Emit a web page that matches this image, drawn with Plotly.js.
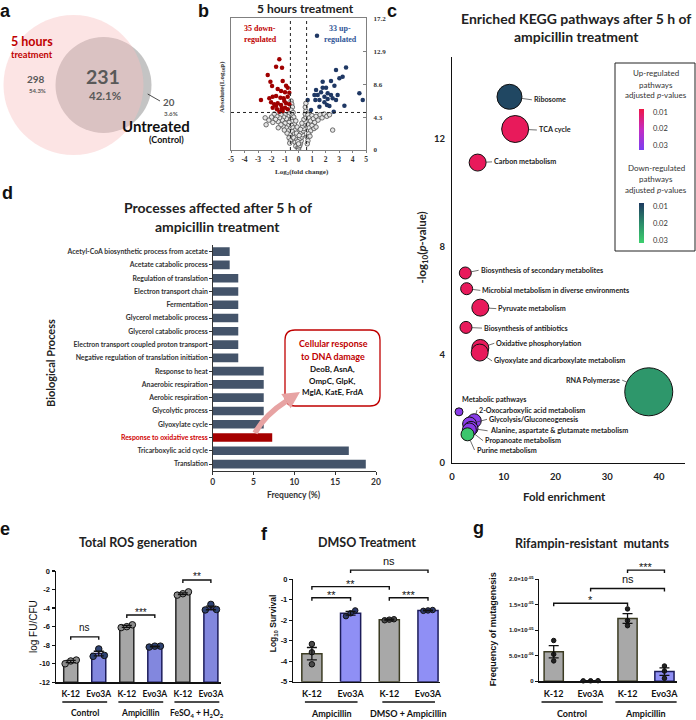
<!DOCTYPE html>
<html>
<head>
<meta charset="utf-8">
<script src="https://cdn.plot.ly/plotly-3.0.1.min.js"></script>
<style>
html,body{margin:0;padding:0;background:#ffffff;}
#chart{width:696px;height:720px;}
</style>
</head>
<body>
<div id="chart"></div>
<script>
// ================= DATA =================
// (a) Venn diagram
const vennSetNames = ['5 hours', 'treatment', 'Untreated', '(Control)'];
const vennCounts = [298, 231, 20];            // treated only, shared, control only
const vennPercents = ['54.3%', '42.1%', '3.6%'];

// (b) Volcano plot
const downLog2FC = [-1.42,-1.66,-1.22,-2.28,-2.08,-1.17,-1.96,-0.92,-0.80,-1.54,-1.29,-1.00,-0.68,-2.78,-1.91,-1.66,-1.34,-1.10,-0.80,-2.03,-1.79,-1.54,-1.29,-0.92,-0.68,-1.91,-1.59,-1.24,-1.00,-0.80,-1.42,-1.17,-1.66,-1.05,-2.16];
const downLogP   = [11.84,10.88,10.75,9.79,8.92,9.01,8.36,8.40,8.14,7.96,7.70,7.53,7.49,6.53,6.96,7.05,6.83,6.75,6.96,6.22,5.96,6.09,5.87,6.09,5.96,5.53,5.31,5.44,5.53,5.31,5.00,5.09,5.79,6.40,6.75];
const upLog2FC = [1.37,3.52,2.78,3.27,3.03,2.41,2.66,1.79,2.04,1.30,1.67,1.42,1.18,2.16,2.41,4.51,4.76,0.68,1.25,1.55,2.16,2.53,2.78,1.92,2.11,3.40,2.29,2.61,0.93,1.55,1.92,2.90,1.79];
const upLogP   = [14.93,10.79,10.44,9.57,9.36,9.01,8.40,8.14,8.14,7.83,7.53,7.18,7.18,7.40,7.18,7.40,6.53,6.53,6.53,6.53,6.66,6.75,6.53,6.22,5.87,5.79,5.74,5.00,5.22,5.66,6.96,7.18,8.92];
const nsLog2FC = [-0.55,-0.5,-0.45,-0.55,-0.4,-0.5,-0.35,-0.55,-0.45,-0.3,-0.5,-0.4,-0.25,-0.45,-0.3,-0.2,-0.35,-0.15,-0.25,-0.1,-0.2,-0.05,0,0.05,0.1,0.15,0.2,0.1,0.25,0.3,0.2,0.35,0.4,0.3,0.45,0.5,0.4,0.55,0.5,0.55,0.5,0.55,-0.15,-0.05,0.05,-0.1,0.15,-0.2,0.25,0,
  -0.7,-0.8,-0.9,-1.0,-1.1,-1.2,-1.3,-1.4,-1.5,-1.6,-1.7,-1.8,-1.9,-2.0,-2.2,-2.4,-2.47,-0.7,-0.8,-0.9,-1.0,-1.15,-1.3,-0.75,-0.65,-0.85,-1.05,-0.7,-0.6,-1.5,-0.65,
  0.7,0.8,0.9,1.0,1.1,1.2,1.3,1.45,1.6,1.75,1.9,2.1,2.3,0.7,0.8,0.9,1.0,1.15,0.75,0.65,0.85,0.7,1.3,2.53,0.65];
const nsLogP = [6.4,6.0,5.6,5.2,4.9,4.6,4.3,4.0,3.7,3.4,3.2,2.9,2.6,2.4,2.1,1.8,1.6,1.3,1.0,0.7,0.5,0.3,0.1,0.4,0.6,0.9,1.2,1.5,1.7,2.0,2.3,2.5,2.8,3.1,3.4,3.7,4.0,4.3,4.7,5.1,5.6,6.1,2.2,1.1,1.9,3.0,2.7,3.8,3.5,0.8,
  4.7,4.4,4.1,4.6,4.3,3.9,4.6,4.2,3.7,4.4,4.0,4.7,3.6,4.3,3.9,3.3,4.2,3.6,3.2,2.9,3.5,3.1,3.3,2.5,2.0,2.2,2.6,1.6,1.2,2.9,0.9,
  4.6,4.2,3.8,4.5,4.1,3.6,4.4,3.9,4.6,4.2,4.7,4.4,4.6,3.3,2.9,2.5,3.2,2.8,2.1,1.7,1.8,1.2,3.0,2.6,0.8];
const volcanoXTicks = [-5,-4,-3,-2,-1,0,1,2,3,4,5];
const volcanoYTicks = [0, 4.3, 8.6, 12.9, 17.2];
const fcCutoff = 0.6;
const pCutoff = 4.9;

// (c) KEGG bubble chart
const keggNames = ['Ribosome','TCA cycle','Carbon metabolism','Biosynthesis of secondary metabolites','Microbial metabolism in diverse environments','Pyruvate metabolism','Biosynthesis of antibiotics','Oxidative phosphorylation','Glyoxylate and dicarboxylate metabolism','RNA Polymerase','Metabolic pathways','2-Oxocarboxylic acid metabolism','Glycolysis/Gluconeogenesis','Alanine, aspartate & glutamate metabolism','Propanoate metabolism','Purine metabolism'];
const keggFold  = [11.1,12.2,4.95,2.57,2.83,5.47,2.7,5.47,5.35,38.0,1.35,4.3,3.4,3.67,3.35,3.0];
const keggLogP  = [13.53,12.34,11.1,7.02,6.44,5.74,5.01,4.25,4.08,2.63,1.89,1.56,1.44,1.28,1.22,1.06];
const keggBubble = [25,27,17,12,12,17,12,17,17,48,8,14,14,14,14,13];
const keggPadj  = [0.01,0.01,0.01,0.01,0.01,0.01,0.01,0.01,0.01,0.022,0.03,0.03,0.03,0.03,0.03,0.03];
const keggDirection = ['down','up','up','up','up','up','up','up','up','down','up','up','up','up','up','down'];
const keggXTicks = [0,10,20,30,40];
const keggYTicks = [0,4,8,12];

// (d) Biological processes
const bioProcess = ['Acetyl-CoA biosynthetic process from acetate','Acetate catabolic process','Regulation of translation','Electron transport chain','Fermentation','Glycerol metabolic process','Glycerol catabolic process','Electron transport coupled proton transport','Negative regulation of translation initiation','Response to heat','Anaerobic respiration','Aerobic respiration','Glycolytic process','Glyoxylate cycle','Response to oxidative stress','Tricarboxylic acid cycle','Translation'];
const bioFreq = [2.08,2.08,3.13,3.13,3.13,3.13,3.13,3.13,3.13,6.25,6.25,6.25,6.25,6.25,7.29,16.67,18.75];
const highlightProcess = 'Response to oxidative stress';
const freqTicks = [0,5,10,15,20];
const dnaDamageTitle = ['Cellular response','to DNA damage'];
const dnaDamageGenes = ['DeoB, AsnA,','OmpC, GlpK,','MglA, KatE, FrdA'];

// (e) Total ROS generation
const strains = ['K-12','Evo3A'];
const rosGroups = ['Control','Ampicillin','FeSO<sub>4</sub> + H<sub>2</sub>O<sub>2</sub>'];
const rosMean = [-9.75,-8.9,-5.97,-8.14,-2.45,-3.98];
const rosSem  = [0.12,0.25,0.1,0.05,0.1,0.2];
const rosPoints = [[-9.7,-10.0,-9.6],[-8.4,-9.2,-9.1],[-5.8,-6.1,-6.0],[-8.1,-8.2,-8.1],[-2.25,-2.45,-2.6],[-3.6,-4.15,-4.2]];
const rosSig = [{a:0,b:1,y:-7.1,t:'ns'},{a:2,b:3,y:-4.75,t:'***'},{a:4,b:5,y:-0.97,t:'**'}];
const rosTicks = [-12,-10,-8,-6,-4,-2,0];

// (f) DMSO treatment
const dmsoGroups = ['Ampicillin','DMSO + Ampicillin'];
const dmsoMean = [-3.63,-1.66,-1.97,-1.52];
const dmsoSem  = [0.3,0.09,0.02,0.015];
const dmsoPoints = [[-3.16,-3.56,-4.15],[-1.52,-1.66,-1.8],[-1.95,-1.97,-2.0],[-1.5,-1.52,-1.54]];
const dmsoSig = [{a:0,b:1,y:-0.9,t:'**'},{a:0,b:2,y:-0.36,t:'**'},{a:1,b:3,y:0.45,t:'ns'},{a:2,b:3,y:-0.9,t:'***'}];
const dmsoTicks = [-5,-4,-3,-2,-1,0];

// (g) Rifampin-resistant mutants
const rifGroups = ['Control','Ampicillin'];
const rifMean = [5.8e-6,1.0e-7,1.23e-5,1.9e-6];
const rifSem  = [1.2e-6,2e-8,0.95e-6,0.75e-6];
const rifPoints = [[8.0e-6,5.3e-6,4.0e-6],[1.0e-7,1.2e-7,0.9e-7],[1.42e-5,1.19e-5,1.09e-5],[3.0e-6,2.0e-6,0.6e-6]];
const rifSig = [{a:0,b:2,y:1.53e-5,t:'*'},{a:1,b:3,y:1.82e-5,t:'ns'},{a:2,b:3,y:2.18e-5,t:'***'}];
const rifTicks = [0,5e-6,1e-5,1.5e-5,2e-5];
const rifTickText = ['0','5.0×10<sup>-06</sup>','1.0×10<sup>-05</sup>','1.5×10<sup>-05</sup>','2.0×10<sup>-05</sup>'];

// ================= HELPERS =================
const W = 696, H = 720;
const X = p => p / W, Y = p => 1 - p / H;
const FC = 'Lato, "Open Sans", sans-serif';
const FA = '"Liberation Sans", Arial, sans-serif';
const FS = '"Liberation Serif", "DejaVu Serif", serif';
const B = s => '<b>' + s + '</b>';
const shapes = [], annotations = [], traces = [];
function T(px, py, text, size, color, family, extra) {
  return Object.assign({xref:'paper', yref:'paper', x:X(px), y:Y(py), text:text, showarrow:false,
    xanchor:'center', yanchor:'middle', font:{family:family||FC, size:size, color:color||'#222'}}, extra||{});
}
function Letter(px, text) {
  return {xref:'paper', yref:'paper', x:X(px), y:1, text:B(text), showarrow:false, xanchor:'center', yanchor:'top', borderpad:0,
    font:{family:FA, size:18, color:'#111'}};
}
function mapV(ax, v) { return ax.domain[0] + (v - ax.range[0]) / (ax.range[1] - ax.range[0]) * (ax.domain[1] - ax.domain[0]); }
function pp(x, y) { return X(x).toFixed(5) + ',' + Y(y).toFixed(5); }
const common = {showgrid:false, zeroline:false, fixedrange:true};

// ================= (a) VENN =================
shapes.push({type:'circle', xref:'paper', yref:'paper', x0:X(55.5), x1:X(151.5), y0:Y(133), y1:Y(37), fillcolor:'#c4c4c4', line:{width:0}});
shapes.push({type:'circle', xref:'paper', yref:'paper', x0:X(3.5), x1:X(143.5), y0:Y(155), y1:Y(15), fillcolor:'rgba(248,190,190,0.42)', line:{width:0}});
shapes.push({type:'line', xref:'paper', yref:'paper', x0:X(147.7), y0:Y(94), x1:X(160), y1:Y(101), line:{color:'#222', width:0.8}});
annotations.push(Letter(5, 'a'));
annotations.push(T(32, 41.5, B(vennSetNames[0]), 12.5, '#c00000'));
annotations.push(T(32, 54.5, B(vennSetNames[1]), 9.3, '#c00000'));
annotations.push(T(35.5, 79, B(vennCounts[0]), 10, '#595959'));
annotations.push(T(37, 90, B(vennPercents[0]), 6, '#595959'));
annotations.push(T(103, 76.5, B(vennCounts[1]), 19.5, '#595959'));
annotations.push(T(105, 95.5, B(vennPercents[1]), 11.5, '#595959'));
annotations.push(T(168.5, 102, B(vennCounts[2]), 9.8, '#595959'));
annotations.push(T(170.5, 113, B(vennPercents[2]), 6.2, '#595959'));
annotations.push(T(156, 126, B(vennSetNames[2]), 15, '#111'));
annotations.push(T(166, 139, B(vennSetNames[3]), 9, '#111'));

// ================= (b) VOLCANO =================
traces.push({type:'scatter', mode:'markers', x:nsLog2FC, y:nsLogP, xaxis:'x', yaxis:'y', hoverinfo:'skip',
  marker:{size:4.5, color:'#e6e6e6', line:{color:'#4d4d4d', width:0.8}}});
traces.push({type:'scatter', mode:'markers', x:downLog2FC, y:downLogP, xaxis:'x', yaxis:'y', hoverinfo:'skip',
  marker:{size:4.5, color:'#a00000'}});
traces.push({type:'scatter', mode:'markers', x:upLog2FC, y:upLogP, xaxis:'x', yaxis:'y', hoverinfo:'skip',
  marker:{size:4.5, color:'#1f3864'}});
[-fcCutoff, fcCutoff].forEach(v => shapes.push({type:'line', xref:'x', yref:'y', x0:v, x1:v, y0:0, y1:17.2, line:{color:'#222', width:1, dash:'dot'}}));
shapes.push({type:'line', xref:'x', yref:'y', x0:-5, x1:5, y0:pCutoff, y1:pCutoff, line:{color:'#222', width:1, dash:'dot'}});
annotations.push(Letter(203.5, 'b'));
annotations.push(T(305, 8.5, B('5 hours treatment'), 12, '#222'));
annotations.push(T(260, 29, B('35 down-'), 8, '#c00000', FS));
annotations.push(T(260, 39.5, B('regulated'), 8, '#c00000', FS));
annotations.push(T(340, 29, B('33 up-'), 8, '#2f5597', FS));
annotations.push(T(340, 39.5, B('regulated'), 8, '#2f5597', FS));
annotations.push(T(222, 87, B('Absolute(Log<sub>10</sub>p)'), 7, '#333', FS, {textangle:-90}));
annotations.push(T(302, 172, B('Log<sub>2</sub>(fold change)'), 7, '#333', FS));

// ================= (c) KEGG =================
const upIdx = keggDirection.map((d,i) => d === 'up' ? i : -1).filter(i => i >= 0);
const dnIdx = keggDirection.map((d,i) => d === 'down' ? i : -1).filter(i => i >= 0);
function cbar(top, len) {
  return {x:X(639), xanchor:'left', y:Y(top), yanchor:'top', len:len, lenmode:'pixels', thickness:5, thicknessmode:'pixels',
    xpad:0, ypad:0, outlinewidth:0, borderwidth:0, bgcolor:'rgba(0,0,0,0)',
    tickvals:[-0.01,-0.02,-0.03], ticktext:['0.01','0.02','0.03'], ticks:'outside', ticklen:8, tickcolor:'rgba(0,0,0,0)',
    tickfont:{family:FC, size:7.5, color:'#333'}};
}
traces.push({type:'scatter', mode:'markers', xaxis:'x3', yaxis:'y3', hoverinfo:'skip',
  x:upIdx.map(i => keggFold[i]), y:upIdx.map(i => keggLogP[i]),
  marker:{size:upIdx.map(i => keggBubble[i]), sizemode:'diameter', color:upIdx.map(i => -keggPadj[i]),
    colorscale:[[0,'#7b3ff0'],[0.5,'#c42cc2'],[1,'#ef1646']], cmin:-0.0324, cmax:-0.0079,
    line:{color:'#111', width:1}, opacity:1, showscale:true, colorbar:cbar(108.5, 41)}});
traces.push({type:'scatter', mode:'markers', xaxis:'x3', yaxis:'y3', hoverinfo:'skip',
  x:dnIdx.map(i => keggFold[i]), y:dnIdx.map(i => keggLogP[i]),
  marker:{size:dnIdx.map(i => keggBubble[i]), sizemode:'diameter', color:dnIdx.map(i => -keggPadj[i]),
    colorscale:[[0,'#3dd06e'],[0.5,'#2b8a6a'],[1,'#1e3a60']], cmin:-0.0316, cmax:-0.0081,
    line:{color:'#111', width:1}, opacity:1, showscale:true, colorbar:cbar(203.4, 40)}});
// label offsets in pixels (text anchor relative to bubble centre)
const keggLabelOffset = [[22.4,3],[21.7,1],[14.4,-0.7],[13.3,-2.7],[13.7,1.7],[16,1],[16,0.7],[14,-4.7],[12.4,8.4],[-26.6,-11.7],[0.6,-12.7],[2.7,-10.7],[17.4,-4.7],[16.6,2.4],[13.7,10.7],[7,15.7]];
keggNames.forEach((n, i) => {
  const o = keggLabelOffset[i];
  const a = {xref:'x3', yref:'y3', x:keggFold[i], y:keggLogP[i], text:B(n),
    font:{family:FC, size:7.2, color:'#222'}, xanchor:o[0] < 0 ? 'right' : 'left', yanchor:'middle'};
  if (n === 'Metabolic pathways') {
    Object.assign(a, {showarrow:false, xshift:o[0], yshift:-o[1]});
  } else {
    Object.assign(a, {showarrow:true, arrowhead:0, arrowwidth:0.7, arrowcolor:'#333', ax:o[0], ay:o[1], standoff:keggBubble[i] / 2});
  }
  annotations.push(a);
});
annotations.push(Letter(392, 'c'));
annotations.push(T(576, 18.4, B('Enriched KEGG pathways after 5 h of'), 14, '#222'));
annotations.push(T(576, 36.2, B('ampicillin treatment'), 14, '#222'));
annotations.push(T(421.6, 248, B('-log<sub>10</sub>(<i>p</i>-value)'), 11.4, '#222', FC, {textangle:-90}));
annotations.push(T(564, 496, B('Fold enrichment'), 11.4, '#222'));
shapes.push({type:'rect', xref:'paper', yref:'paper', x0:X(615), x1:X(695), y0:Y(251), y1:Y(63), line:{color:'#222', width:1}});
[['Up-regulated',73.5],['pathways',84.5],['adjusted <i>p</i>-values',95.3],['Down-regulated',168.5],['pathways',179],['adjusted <i>p</i>-values',189.8]]
  .forEach(r => annotations.push(T(656, r[1], r[0], 8, '#333')));

// ================= (d) PROCESSES =================
traces.push({type:'bar', orientation:'h', x:bioFreq, y:bioProcess.map((_, i) => i), xaxis:'x4', yaxis:'y4', width:0.65, hoverinfo:'skip',
  marker:{color:bioProcess.map(p => p === highlightProcess ? '#a50000' : '#44546a'), line:{width:0}}});
annotations.push(Letter(7, 'd'));
annotations[annotations.length - 1].y = Y(182);
annotations.push(T(217.5, 208, B('Processes affected after 5 h of'), 14, '#222'));
annotations.push(T(217.5, 226.8, B('ampicillin treatment'), 14, '#222'));
annotations.push(T(50, 363, B('Biological Process'), 11, '#222', FC, {textangle:-90}));
annotations.push(T(294, 494.5, B('Frequency (%)'), 8.5, '#333'));
// callout box
const bx0 = 285, bx1 = 380, by0 = 330, by1 = 406, rr = 10;
shapes.push({type:'path', xref:'paper', yref:'paper', fillcolor:'#ffffff', line:{color:'#c00000', width:1.3},
  path:'M' + pp(bx0 + rr, by0) + ' L' + pp(bx1 - rr, by0) + ' Q' + pp(bx1, by0) + ' ' + pp(bx1, by0 + rr) +
       ' L' + pp(bx1, by1 - rr) + ' Q' + pp(bx1, by1) + ' ' + pp(bx1 - rr, by1) +
       ' L' + pp(bx0 + rr, by1) + ' Q' + pp(bx0, by1) + ' ' + pp(bx0, by1 - rr) +
       ' L' + pp(bx0, by0 + rr) + ' Q' + pp(bx0, by0) + ' ' + pp(bx0 + rr, by0) + ' Z'});
shapes.push({type:'path', xref:'paper', yref:'paper', line:{color:'#e7a3a3', width:5.5},
  path:'M' + pp(255, 433) + ' Q' + pp(265, 414.7) + ' ' + pp(286.5, 401)});
shapes.push({type:'path', xref:'paper', yref:'paper', fillcolor:'#e7a3a3', line:{width:0},
  path:'M' + pp(300, 392) + ' L' + pp(290.7, 408.3) + ' L' + pp(281.3, 394.1) + ' Z'});
annotations.push(T(333, 343, B(dnaDamageTitle[0]), 9, '#c00000'));
annotations.push(T(333, 356, B(dnaDamageTitle[1]), 9, '#c00000'));
dnaDamageGenes.forEach((g, i) => annotations.push(T(332, 369.5 + i * 11.2, B(g), 8, '#111')));

// ================= (e)(f)(g) BAR PANELS =================
const axE = {x:{domain:[X(56), X(220.7)], range:[-0.525, 5.35]}, y:{domain:[Y(682.3), Y(571)], range:[-12, 0]}};
const axF = {x:{domain:[X(293.3), X(440)], range:[-0.48, 3.31]}, y:{domain:[Y(681.7), Y(579.3)], range:[-5, 0]}};
const axG = {x:{domain:[X(539.3), X(677)], range:[-0.39, 3.34]}, y:{domain:[Y(681.3), Y(579.3)], range:[0, 2e-5]}};

function offsets(vals, thr, d) {
  const idx = vals.map((v, i) => i).sort((a, b) => vals[a] - vals[b]);
  const clusters = [];
  idx.forEach(i => {
    const last = clusters[clusters.length - 1];
    if (last && Math.abs(vals[i] - vals[last[last.length - 1]]) < thr) last.push(i); else clusters.push([i]);
  });
  const off = vals.map(() => 0);
  clusters.forEach(c => {
    if (c.length === 2) { off[c[0]] = -d; off[c[1]] = d; }
    if (c.length >= 3) { c.forEach((i, k) => off[i] = -d + 2 * d * k / (c.length - 1)); }
  });
  return off;
}
function panel(xa, ya, ax, means, sems, pts, base, style) {
  const pos = means.map((_, i) => i);
  traces.push({type:'bar', x:pos, y:means.map(m => m - base), base:base, xaxis:xa, yaxis:ya, width:style.bw, hoverinfo:'skip',
    marker:{color:pos.map(i => i % 2 === 0 ? style.k12 : style.evo), line:{color:pos.map(i => i % 2 === 0 ? style.k12Line : style.evoLine), width:1.5}}});
  const span = ax.y.range[1] - ax.y.range[0];
  const dx = [], dy = [], dc = [];
  pts.forEach((p, i) => {
    const o = offsets(p, 0.04 * span, style.jit);
    p.forEach((v, k) => { dx.push(i + o[k]); dy.push(v); dc.push(i % 2 === 0 ? style.dotK : style.dotE); });
  });
  traces.push({type:'scatter', mode:'markers', x:dx, y:dy, xaxis:xa, yaxis:ya, cliponaxis:false, hoverinfo:'skip',
    marker:{size:style.ds, color:dc, line:{color:'#111', width:1}}});
  traces.push({type:'scatter', mode:'markers', x:pos, y:means, xaxis:xa, yaxis:ya, cliponaxis:false, hoverinfo:'skip',
    marker:{size:1, opacity:0}, error_y:{type:'data', array:sems, visible:true, color:'#111', thickness:1.3, width:5}});
}
function brackets(ax, sig, fs) {
  sig.forEach(s => {
    const x0 = mapV(ax.x, s.a), x1 = mapV(ax.x, s.b), yy = mapV(ax.y, s.y), dr = 3 / H;
    shapes.push({type:'path', xref:'paper', yref:'paper', line:{color:'#111', width:1.4},
      path:'M' + x0 + ',' + (yy - dr) + ' L' + x0 + ',' + yy + ' L' + x1 + ',' + yy + ' L' + x1 + ',' + (yy - dr)});
    annotations.push({xref:'paper', yref:'paper', x:(x0 + x1) / 2, y:yy, text:s.t, showarrow:false, xanchor:'center', yanchor:'middle',
      yshift:s.t === 'ns' ? 9 : 3, font:{family:FA, size:fs, color:'#111'}});
  });
}
function groups(ax, names, half, fs) {
  names.forEach((g, i) => {
    const c = 2 * i + 0.5;
    shapes.push({type:'line', xref:'paper', yref:'paper', x0:mapV(ax.x, c - half), x1:mapV(ax.x, c + half), y0:Y(702), y1:Y(702), line:{color:'#111', width:1.4}});
    annotations.push({xref:'paper', yref:'paper', x:mapV(ax.x, c), y:Y(713), text:B(g), showarrow:false, xanchor:'center', yanchor:'middle',
      font:{family:FC, size:fs, color:'#111'}});
  });
}
const styleE = {bw:0.5, k12:'#a6a6a6', evo:'#8287de', k12Line:'#262626', evoLine:'#1c1c5a', dotK:'#8c8c8c', dotE:'#2e4272', ds:6.5, jit:0.2};
const styleF = {bw:0.52, k12:'#a8a8a8', evo:'#8f8ff5', k12Line:'#3b3b22', evoLine:'#1c1c5a', dotK:'#4a4a4a', dotE:'#2e3a6e', ds:5.5, jit:0.12};
const styleG = {bw:0.52, k12:'#a8a8a8', evo:'#8f8ff5', k12Line:'#3b3b22', evoLine:'#1c1c5a', dotK:'#222222', dotE:'#222222', ds:4.5, jit:0.2};
panel('x5', 'y5', axE, rosMean, rosSem, rosPoints, -12, styleE);
panel('x6', 'y6', axF, dmsoMean, dmsoSem, dmsoPoints, -5, styleF);
panel('x7', 'y7', axG, rifMean, rifSem, rifPoints, 0, styleG);
brackets(axE, rosSig, 10);
brackets(axF, dmsoSig, 11);
brackets(axG, rifSig, 11);
groups(axE, rosGroups, 0.8, 8.5);
groups(axF, dmsoGroups, 0.68, 9);
groups(axG, rifGroups, 0.83, 9);
annotations.push(T(5, 529, B('e'), 18, '#111', FA));
annotations.push(T(264, 534, B('f'), 18, '#111', FA));
annotations.push(T(478, 528, B('g'), 18, '#111', FA));
annotations.push(T(137.6, 542, B('Total ROS generation'), 12.5, '#222'));
annotations.push(T(367, 542, B('DMSO Treatment'), 12.5, '#222'));
annotations.push(T(592, 543, B('Rifampin-resistant  mutants'), 12.5, '#222'));
annotations.push(T(33, 627, 'log FU/CFU', 10, '#111', FA, {textangle:-90}));
annotations.push(T(273.3, 623, B('Log<sub>10</sub> Survival'), 8.5, '#111', FA, {textangle:-90}));
annotations.push(T(493.3, 629, B('Frequency of mutagenesis'), 9, '#111', FA, {textangle:-90}));

const strainTicks = n => Array.from({length:n}, (_, i) => B(strains[i % 2]));
const barX = (ax, ya, n, fs) => Object.assign({}, common, ax.x, {anchor:ya, tickvals:Array.from({length:n}, (_, i) => i), ticktext:strainTicks(n),
  ticks:'outside', ticklen:3, tickcolor:'rgba(0,0,0,0)', showline:true, linecolor:'#111', linewidth:1.5, tickfont:{family:FC, size:fs, color:'#111'}});
const barY = (ax, xa, vals, texts, fs) => Object.assign({}, common, ax.y, {anchor:xa, tickvals:vals, ticktext:texts.map(B), ticks:'outside', ticklen:3, tickwidth:1.2, tickcolor:'#111',
  showline:true, linecolor:'#111', linewidth:1.5, tickfont:{family:FA, size:fs, color:'#111'}});

// ================= LAYOUT =================
const layout = {
  width:W, height:H, margin:{l:0, r:0, t:0, b:0, pad:0},
  paper_bgcolor:'#ffffff', plot_bgcolor:'rgba(0,0,0,0)', showlegend:false,
  font:{family:FC, color:'#222'},
  xaxis:Object.assign({}, common, {domain:[X(231), X(366)], range:[-5, 5], anchor:'y', tickvals:volcanoXTicks, ticktext:volcanoXTicks.map(v => B(String(v))),
    ticks:'outside', ticklen:2, tickcolor:'#808080', showline:true, mirror:true, linecolor:'#808080', linewidth:1,
    tickfont:{family:FS, size:7.5, color:'#333'}}),
  yaxis:Object.assign({}, common, {domain:[Y(150), Y(18.3)], range:[0, 17.2], anchor:'x', side:'right', tickvals:volcanoYTicks,
    ticktext:volcanoYTicks.map(v => B(String(v))), ticks:'inside', ticklen:3, tickcolor:'#808080', showline:true, mirror:true, linecolor:'#808080', linewidth:1,
    ticklabelstandoff:5, tickfont:{family:FS, size:7, color:'#333'}}),
  xaxis3:Object.assign({}, common, {domain:[X(452), X(685)], range:[0, 45], anchor:'y3', tickvals:keggXTicks, ticktext:keggXTicks.map(v => B(String(v))), ticks:'',
    showline:true, linecolor:'#111', linewidth:1, ticklabelstandoff:5, tickfont:{family:FC, size:9.5, color:'#222'}}),
  yaxis3:Object.assign({}, common, {domain:[Y(463), Y(57)], range:[0, 15], anchor:'x3', tickvals:keggYTicks, ticktext:keggYTicks.map(v => B(String(v))), ticks:'',
    showline:true, linecolor:'#111', linewidth:1, ticklabelstandoff:4, tickfont:{family:FC, size:9.5, color:'#222'}}),
  xaxis4:Object.assign({}, common, {domain:[X(212.7), X(376)], range:[0, 20], anchor:'y4', tickvals:freqTicks, ticktext:freqTicks.map(v => B(String(v))), ticks:'outside', ticklen:3,
    tickcolor:'#333', showline:true, linecolor:'#333', linewidth:1, tickfont:{family:FC, size:8.5, color:'#333'}}),
  yaxis4:Object.assign({}, common, {domain:[Y(470.7), Y(245)], range:[16.5, -0.5], anchor:'x4', tickvals:bioProcess.map((_, i) => i),
    ticktext:bioProcess.map(p => p === highlightProcess ? '<span style="color:#d00000">' + B(p) + '</span>' : B(p)),
    ticks:'outside', ticklen:2.5, tickcolor:'#333', showline:true, linecolor:'#333', linewidth:1,
    tickfont:{family:FC, size:6.9, color:'#333'}}),
  xaxis5:barX(axE, 'y5', 6, 8.5),
  yaxis5:barY(axE, 'x5', rosTicks, rosTicks.map(String), 7.5),
  xaxis6:barX(axF, 'y6', 4, 9),
  yaxis6:barY(axF, 'x6', dmsoTicks, dmsoTicks.map(String), 7.5),
  xaxis7:barX(axG, 'y7', 4, 9),
  yaxis7:barY(axG, 'x7', rifTicks, rifTickText, 6),
  shapes:shapes, annotations:annotations
};
Plotly.newPlot('chart', traces, layout, {staticPlot:true, displayModeBar:false});
</script>
</body>
</html>
